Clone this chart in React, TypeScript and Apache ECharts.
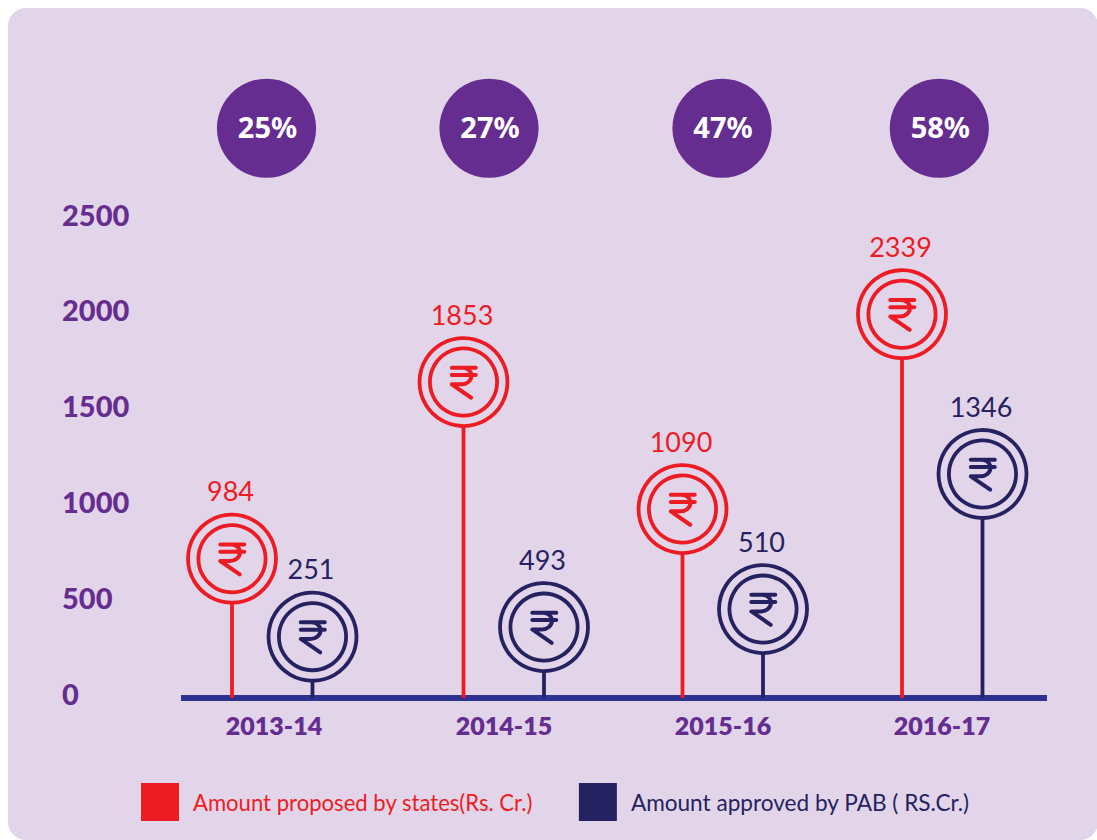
import React, { useEffect, useRef } from "react";
import * as echarts from "echarts";

const periods = ["2013-14", "2014-15", "2015-16", "2016-17"];
const proposed = [984, 1853, 1090, 2339];
const approved = [251, 493, 510, 1346];
const proposedCircleLevels = [701, 1623, 960, 1977];
const approvedCircleLevels = [294, 344, 438, 1143];
const shares = ["25%", "27%", "47%", "58%"];
const shareCentres = [85.5, 308, 541, 758.3];
const periodCentres = [91, 322.5, 541.5, 761];
const periodLabelCentres = [93, 323, 542, 761];
const yTicks = [0, 500, 1000, 1500, 2000, 2500];

const RED = "#ed1c24";
const NAVY = "#262262";
const PURPLE = "#662d91";
const BASE = "#2e3192";
const PANEL = "#e2d5e9";
const RUPEE = "M-11.7 -14.3 L12.3 -14.3 M-11.7 -7 L12.3 -7 M-1 -14.3 C5 -14.3 8 -10 8 -6.5 C8 -1 3 2.3 -2 2.3 L-11.7 2.3 L7.7 15.7";

const lollipop = (color: string, offset: number) => (_: any, api: any) => {
  const p = api.coord([api.value(0), api.value(1)]);
  const b = api.coord([api.value(0), 0]);
  const cx = p[0] + offset;
  const cy = p[1];
  const sw = 3.8;
  return {
    type: "group",
    children: [
      { type: "line", shape: { x1: cx, y1: b[1] + 5, x2: cx, y2: cy + 44 }, style: { stroke: color, lineWidth: sw } },
      { type: "circle", shape: { cx, cy, r: 44 }, style: { fill: "none", stroke: color, lineWidth: sw } },
      { type: "circle", shape: { cx, cy, r: 33.6 }, style: { fill: "none", stroke: color, lineWidth: sw } },
      {
        type: "path",
        shape: { pathData: RUPEE, x: cx - 11.7, y: cy - 14.3, width: 24, height: 30, layout: "cover" },
        style: { fill: "none", stroke: color, lineWidth: 4, lineCap: "round", lineJoin: "round" },
      },
      {
        type: "text",
        style: {
          x: cx - 1.5, y: cy - 68, text: String(api.value(2)), fill: color,
          font: "400 27px Lato", align: "center", verticalAlign: "middle",
        },
      },
    ],
  };
};

const shareCircle = (_: any, api: any) => {
  const p = api.coord([api.value(0), 2949]);
  return {
    type: "group",
    children: [
      { type: "circle", shape: { cx: p[0], cy: p[1] + 0.3, r: 49.6 }, style: { fill: PURPLE } },
      {
        type: "text",
        style: {
          x: p[0] + 1, y: p[1] - 1, text: shares[api.value(1)], fill: "#ffffff",
          font: "700 29px 'Noto Sans'", align: "center", verticalAlign: "middle",
        },
      },
    ],
  };
};

export default function App() {
  const ref = useRef<HTMLDivElement>(null);
  useEffect(() => {
    const chart = echarts.init(ref.current!, null, { renderer: "svg" });
    chart.setOption({
      animation: false,
      backgroundColor: "#ffffff",
      graphic: [
        { type: "rect", z: -1, shape: { x: 8, y: 8, width: 1090, height: 832, r: 18 }, style: { fill: PANEL } },
      ],
      grid: { left: 181, width: 866, top: 214, bottom: 147 },
      legend: {
        left: 136,
        top: 778,
        icon: "rect",
        itemWidth: 38,
        itemHeight: 38,
        itemGap: 46,
        selectedMode: false,
        data: [
          { name: "Amount proposed by states(Rs. Cr.)", textStyle: { color: RED, fontSize: 22.1 } },
          { name: "Amount approved by PAB ( RS.Cr.)", textStyle: { color: NAVY, fontSize: 22.6 } },
        ],
        textStyle: { fontFamily: "Lato", fontSize: 22, padding: [0, 0, 2, 9] },
      },
      xAxis: {
        type: "value",
        min: 0,
        max: 866,
        offset: 5,
        splitLine: { show: false },
        axisTick: { show: false },
        axisLine: { show: true, onZero: false, lineStyle: { color: BASE, width: 6, cap: "butt" } },
        axisLabel: {
          customValues: periodLabelCentres,
          formatter: (v: number) => periods[periodLabelCentres.indexOf(v)] ?? "",
          color: PURPLE,
          fontFamily: "Lato",
          fontWeight: 800,
          fontSize: 25,
          margin: 14,
          showMinLabel: true,
          showMaxLabel: true,
        },
      },
      yAxis: {
        type: "value",
        min: 0,
        max: 2500,
        interval: 500,
        splitLine: { show: false },
        axisTick: { show: false },
        axisLine: { show: false },
        axisLabel: {
          customValues: yTicks,
          formatter: (v: number) => String(v),
          color: PURPLE,
          fontFamily: "Lato",
          fontWeight: 900,
          fontSize: 29,
          align: "left",
          margin: 119,
          padding: [0, 0, 2, 0],
        },
      },
      series: [
        {
          type: "custom",
          name: "Amount proposed by states(Rs. Cr.)",
          itemStyle: { color: RED },
          clip: false,
          silent: true,
          encode: { x: 0, y: 1 },
          renderItem: lollipop(RED, -40),
          data: periodCentres.map((x, i) => [x, proposedCircleLevels[i], proposed[i]]),
        },
        {
          type: "custom",
          name: "Amount approved by PAB ( RS.Cr.)",
          itemStyle: { color: NAVY },
          clip: false,
          silent: true,
          encode: { x: 0, y: 1 },
          renderItem: lollipop(NAVY, 40.5),
          data: periodCentres.map((x, i) => [x, approvedCircleLevels[i], approved[i]]),
        },
        {
          type: "custom",
          name: "share",
          clip: false,
          silent: true,
          encode: { x: 0 },
          renderItem: shareCircle,
          data: shareCentres.map((x, i) => [x, i]),
        },
      ],
    });
    return () => chart.dispose();
  }, []);
  return <div ref={ref} style={{ position: "fixed", left: 0, top: 0, width: 1097, height: 840 }} />;
}
